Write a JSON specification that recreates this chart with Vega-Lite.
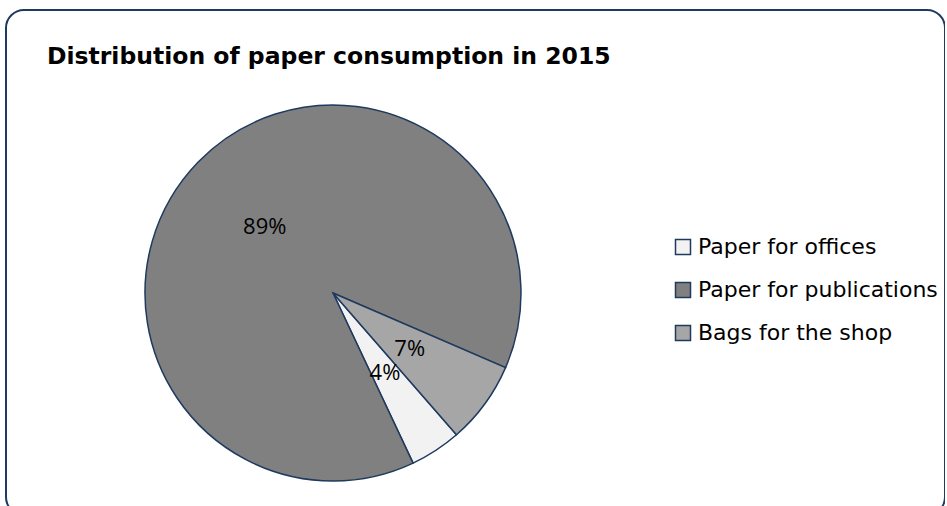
{
  "$schema": "https://vega.github.io/schema/vega-lite/v6.json",
  "autosize": "none",
  "padding": {"left": 6, "top": 10, "right": 0, "bottom": 0},
  "width": 939,
  "height": 505,
  "background": "white",
  "view": {"stroke": "#1f3a5f", "strokeWidth": 2, "cornerRadius": 18, "fill": "white"},
  "title": {
    "text": "Distribution of paper consumption in 2015",
    "anchor": "start",
    "frame": "group",
    "offset": -58,
    "dx": 41,
    "font": "DejaVu Sans",
    "fontSize": 23.5,
    "fontWeight": "bold",
    "color": "black"
  },
  "data": {
    "values": [
      {"category": "Paper for offices", "share": 4.4, "label": "4%"},
      {"category": "Paper for publications", "share": 88.5, "label": "89%"},
      {"category": "Bags for the shop", "share": 7.1, "label": "7%"}
    ]
  },
  "encoding": {
    "theta": {"field": "share", "type": "quantitative", "stack": true, "scale": {"range": [1.979, 8.262]}},
    "order": {"field": "category", "sort": "ascending"}
  },
  "layer": [
    {
      "mark": {"type": "arc", "outerRadius": 188, "x": 327, "y": 283, "stroke": "#1f3a5f", "strokeWidth": 1.5},
      "encoding": {
        "color": {
          "field": "category",
          "type": "nominal",
          "scale": {
            "domain": ["Paper for offices", "Paper for publications", "Bags for the shop"],
            "range": ["#f2f2f2", "#808080", "#a6a6a6"]
          },
          "legend": {
            "title": null,
            "orient": "none",
            "legendX": 666,
            "legendY": 226,
            "symbolType": "square",
            "symbolSize": 225,
            "symbolStrokeColor": "#1f3a5f",
            "symbolStrokeWidth": 1.5,
            "symbolOpacity": 1,
            "labelFont": "DejaVu Sans",
            "labelFontSize": 22,
            "labelColor": "black",
            "labelLimit": 400,
            "rowPadding": 21,
            "labelOffset": 4
          }
        }
      }
    },
    {
      "mark": {"type": "text", "radius": 95, "x": 327, "y": 283, "font": "Open Sans", "fontSize": 22, "color": "black", "align": "center", "baseline": "middle"},
      "encoding": {
        "text": {"field": "label", "type": "nominal"}
      }
    }
  ]
}
